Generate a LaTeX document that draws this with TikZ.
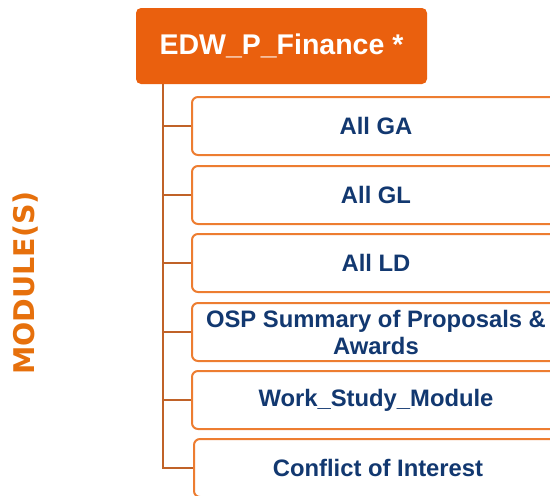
\documentclass[tikz,border=0pt]{standalone}
\usepackage{fontspec}
\setmainfont{Liberation Sans}
\newfontfamily\sidefont{DejaVu Sans}
\definecolor{headfill}{RGB}{234,96,14}
\definecolor{boxline}{RGB}{237,125,49}
\definecolor{tieline}{RGB}{192,98,40}
\definecolor{modtext}{RGB}{18,56,112}
\definecolor{sidetext}{RGB}{230,112,12}
\tikzset{
  headbox/.style={fill=headfill, rounded corners=5pt, minimum width=291pt,
    minimum height=76pt, text=white, font=\fontsize{28.5}{32}\selectfont\bfseries},
  modbox/.style={draw=boxline, line width=2pt, fill=white, rounded corners=6pt,
    minimum width=368pt, minimum height=58pt, text=modtext, align=center,
    font=\fontsize{23.8}{27}\selectfont\bfseries},
  tie/.style={draw=tieline, line width=2.5pt}
}
\begin{document}
\begin{tikzpicture}[x=1pt,y=-1pt]
    \useasboundingbox (0,0) rectangle (550,496);
    \clip (0,0) rectangle (550,496);

    \node[headbox] (head) at (281.5,46) {EDW\_P\_Finance *};
    \coordinate (trunk) at (163,84);

    \node[modbox] (ga) at (376,126) {All GA};
    \node[modbox] (gl) at (376,195) {All GL};
    \node[modbox] (ld) at (376,263) {All LD};
    \node[modbox] (osp) at (376,332) {OSP Summary of Proposals \&\\Awards};
    \node[modbox] (ws) at (376,400) {Work\_Study\_Module};
    \node[modbox] (coi) at (378,468) {Conflict of Interest};

    % trunk and ties
    \draw[tie] (trunk) |- (coi.west);
    \draw[tie] (trunk |- ga.west) -- (ga.west);
    \draw[tie] (trunk |- gl.west) -- (gl.west);
    \draw[tie] (trunk |- ld.west) -- (ld.west);
    \draw[tie] (trunk |- osp.west) -- (osp.west);
    \draw[tie] (trunk |- ws.west) -- (ws.west);

    \node[rotate=90, text=sidetext, font=\sidefont\fontsize{28.5}{32}\selectfont\bfseries]
      (side) at (26,283) {MODULE(S)};
  \end{tikzpicture}
\end{document}
